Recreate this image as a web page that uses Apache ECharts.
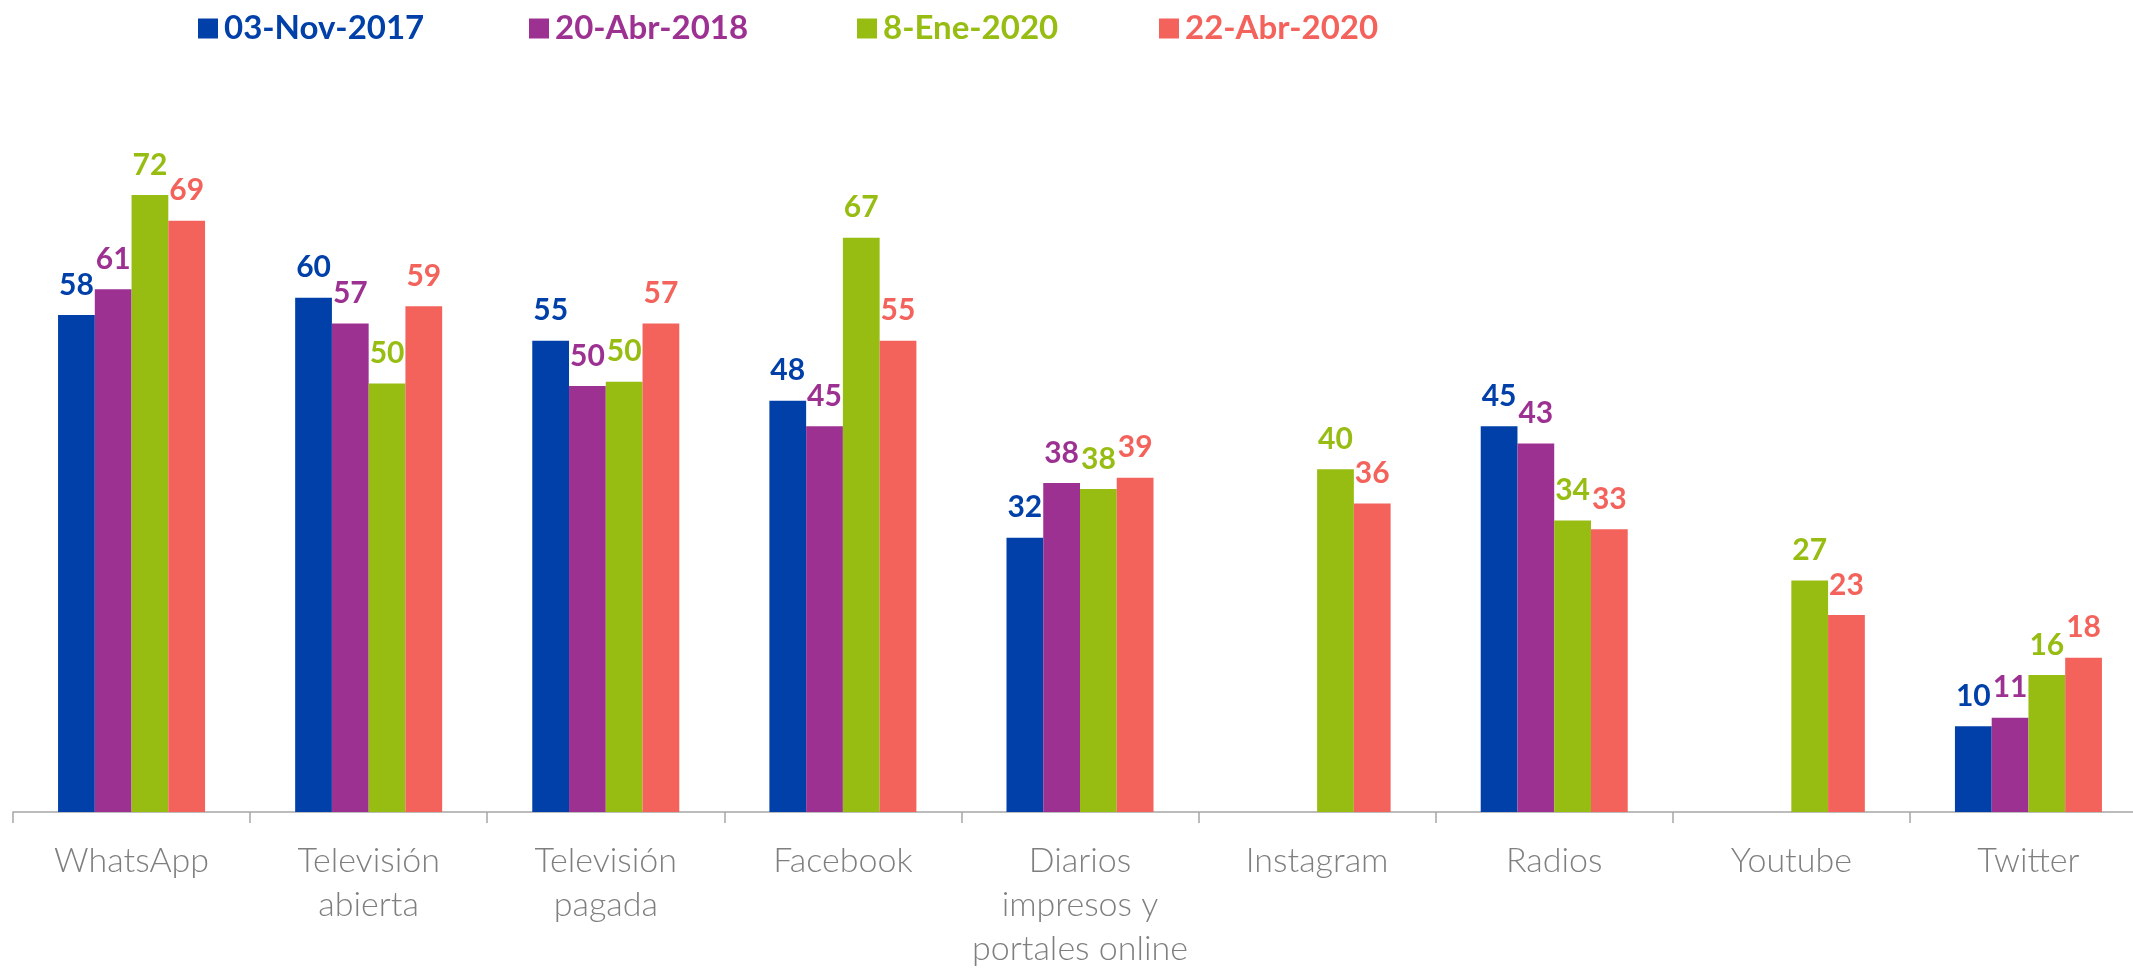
<!DOCTYPE html>
<html>
<head>
<meta charset="utf-8">
<script src="https://cdn.jsdelivr.net/npm/echarts@6/dist/echarts.min.js"></script>
<style>
html,body{margin:0;padding:0;background:#fff;}
#chart{width:2133px;height:968px;}
</style>
</head>
<body>
<div id="chart"></div>
<script>
const categories = ['WhatsApp', 'Televisión\nabierta', 'Televisión\npagada', 'Facebook', 'Diarios\nimpresos y\nportales online', 'Instagram', 'Radios', 'Youtube', 'Twitter'];
const seriesNames = ['03-Nov-2017', '20-Abr-2018', '8-Ene-2020', '22-Abr-2020'];
const nov2017 = [58, 60, 55, 48, 32, null, 45, null, 10];
const abr2018 = [61, 57, 49.7, 45, 38.4, null, 43, null, 11];
const ene2020 = [72, 50, 50.2, 67, 37.7, 40, 34, 27, 16];
const abr2020 = [69, 59, 57, 55, 39, 36, 33, 23, 18];
const colors = ['#0040A8', '#9D3192', '#97BC12', '#F4625C'];
const legendLeft = [198, 529, 857, 1159];

const seriesData = [nov2017, abr2018, ene2020, abr2020];
const chart = echarts.init(document.getElementById('chart'));

const legends = seriesNames.map((n, i) => ({
  data: [n],
  left: legendLeft[i],
  top: 12,
  padding: 0,
  icon: 'rect',
  itemWidth: 20,
  itemHeight: 20,
  itemGap: 0,
  textStyle: {color: colors[i], fontFamily: 'Lato', fontWeight: 'bold', fontSize: 33, padding: [0, 0, 0, 1]},
  selectedMode: false
}));

const series = seriesNames.map((n, i) => ({
  name: n,
  type: 'bar',
  data: seriesData[i],
  barGap: '0%',
  barCategoryGap: '38%',
  itemStyle: {color: colors[i]},
  label: {
    show: true,
    position: 'top',
    distance: 15,
    color: colors[i],
    fontFamily: 'Lato',
    fontWeight: 'bold',
    fontSize: 30,
    formatter: p => Math.round(p.value)
  }
}));

chart.setOption({
  animation: false,
  color: colors,
  legend: legends,
  grid: {left: 13, right: -14, top: 126.4, bottom: 156, containLabel: false, outerBoundsMode: 'none'},
  xAxis: {
    type: 'category',
    data: categories,
    axisLine: {lineStyle: {color: '#A6A6A6', width: 1.5}},
    axisTick: {show: true, length: 11, lineStyle: {color: '#A6A6A6', width: 1.5}},
    axisLabel: {
      color: '#7F7F7F',
      fontFamily: 'Lato',
      fontWeight: 300,
      fontSize: 34,
      lineHeight: 44,
      margin: 27,
      interval: 0
    }
  },
  yAxis: {
    type: 'value',
    min: 0,
    max: 80,
    show: false,
    splitLine: {show: false}
  },
  series: series
});
</script>
</body>
</html>
